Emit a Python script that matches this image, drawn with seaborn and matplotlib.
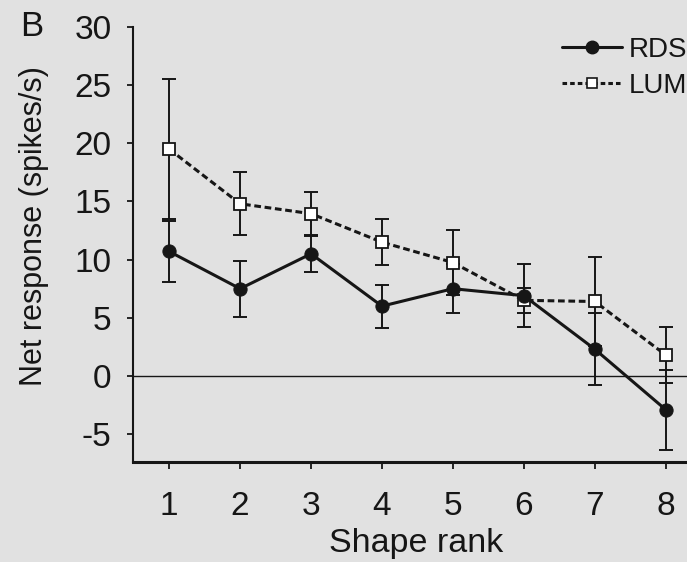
import matplotlib
matplotlib.use("Agg")
import matplotlib.pyplot as plt
import seaborn as sns
import pandas as pd
from matplotlib.lines import Line2D

# ---- data ----
ranks = [1, 2, 3, 4, 5, 6, 7, 8]
rds_mean = [10.7, 7.5, 10.5, 6.0, 7.5, 6.9, 2.3, -2.9]
rds_err = [2.6, 2.4, 1.6, 1.85, 2.1, 2.7, 3.1, 3.45]
lum_mean = [19.5, 14.8, 13.95, 11.5, 9.75, 6.5, 6.4, 1.8]
lum_err = [6.05, 2.7, 1.9, 2.0, 2.8, 1.1, 3.8, 2.4]
series_names = ["RDS", "LUM"]
y_ticks = [-5, 0, 5, 10, 15, 20, 25, 30]
x_label = "Shape rank"
y_label = "Net response (spikes/s)"
panel_label = "B"

bg = "#e1e1e1"
ink = "#161616"

sns.set_theme(style="white")
plt.rcParams["font.family"] = ["Liberation Sans", "DejaVu Sans"]
plt.rcParams["text.color"] = ink
plt.rcParams["axes.labelcolor"] = ink
plt.rcParams["xtick.color"] = ink
plt.rcParams["ytick.color"] = ink

fig = plt.figure(figsize=(6.87, 5.62), dpi=100, facecolor=bg)
ax = fig.add_axes([133 / 687, 100 / 562, (687 - 133) / 687, (462 - 27) / 562])
ax.set_facecolor(bg)

df_rds = pd.DataFrame({"rank": ranks, "mean": rds_mean, "err": rds_err})
df_lum = pd.DataFrame({"rank": ranks, "mean": lum_mean, "err": lum_err})

# zero line
ax.axhline(0, color=ink, lw=1.0, zorder=1)

# error bars
ax.errorbar(df_lum["rank"], df_lum["mean"], yerr=df_lum["err"], fmt="none",
            ecolor=ink, elinewidth=1.4, capsize=5, capthick=1.4, zorder=2)
ax.errorbar(df_rds["rank"], df_rds["mean"], yerr=df_rds["err"], fmt="none",
            ecolor=ink, elinewidth=1.4, capsize=5, capthick=1.4, zorder=2)

# lines with markers
sns.lineplot(data=df_lum, x="rank", y="mean", ax=ax, color=ink, lw=2.2,
             marker="s", markersize=8.5, markerfacecolor="white",
             markeredgecolor=ink, markeredgewidth=1.3,
             linestyle=(0, (2.2, 1.2)), zorder=4)
sns.lineplot(data=df_rds, x="rank", y="mean", ax=ax, color=ink, lw=2.2,
             marker="o", markersize=9.5, markerfacecolor=ink,
             markeredgecolor=ink, zorder=5)

ax.set_xlim(0.49, 8.3)
ax.set_ylim(-7.4, 30)
ax.set_xticks(ranks)
ax.set_yticks(y_ticks)
ax.set_xticklabels([str(r) for r in ranks])
ax.set_yticklabels([str(t) for t in y_ticks])

for s in ["top", "right"]:
    ax.spines[s].set_visible(False)
ax.spines["left"].set_linewidth(1.5)
ax.spines["bottom"].set_linewidth(2.2)
ax.spines["left"].set_color(ink)
ax.spines["bottom"].set_color(ink)

ax.tick_params(axis="y", direction="out", length=4.5, width=1.3, pad=11,
               labelsize=24, left=True)
ax.tick_params(axis="x", direction="out", length=5, width=1.3, pad=16,
               labelsize=24, bottom=True)

ax.set_xlabel(x_label, fontsize=24.5, labelpad=4)
ax.xaxis.label.set_x(0.511)
ax.set_ylabel(y_label, fontsize=22)
ax.yaxis.set_label_coords(-0.152, 0.5425)

fig.text(20 / 687, 1 - 36 / 562, panel_label, fontsize=25, color=ink)

handles = [
    Line2D([], [], color=ink, lw=2.2, marker="o", markersize=9,
           markerfacecolor=ink, markeredgecolor=ink),
    Line2D([], [], color=ink, lw=2.2, linestyle=(0, (1.5, 1.0)), marker="s",
           markersize=7.5, markerfacecolor="white", markeredgecolor=ink,
           markeredgewidth=1.2),
]
leg = fig.legend(handles, series_names, loc="upper left",
                 bbox_to_anchor=(562 / 687, 1 - 37 / 562), frameon=False,
                 fontsize=20, handlelength=2.15, handletextpad=0.25,
                 borderpad=0, borderaxespad=0, labelspacing=0.35, numpoints=1)

fig.savefig("out.png", dpi=100, facecolor=bg)
